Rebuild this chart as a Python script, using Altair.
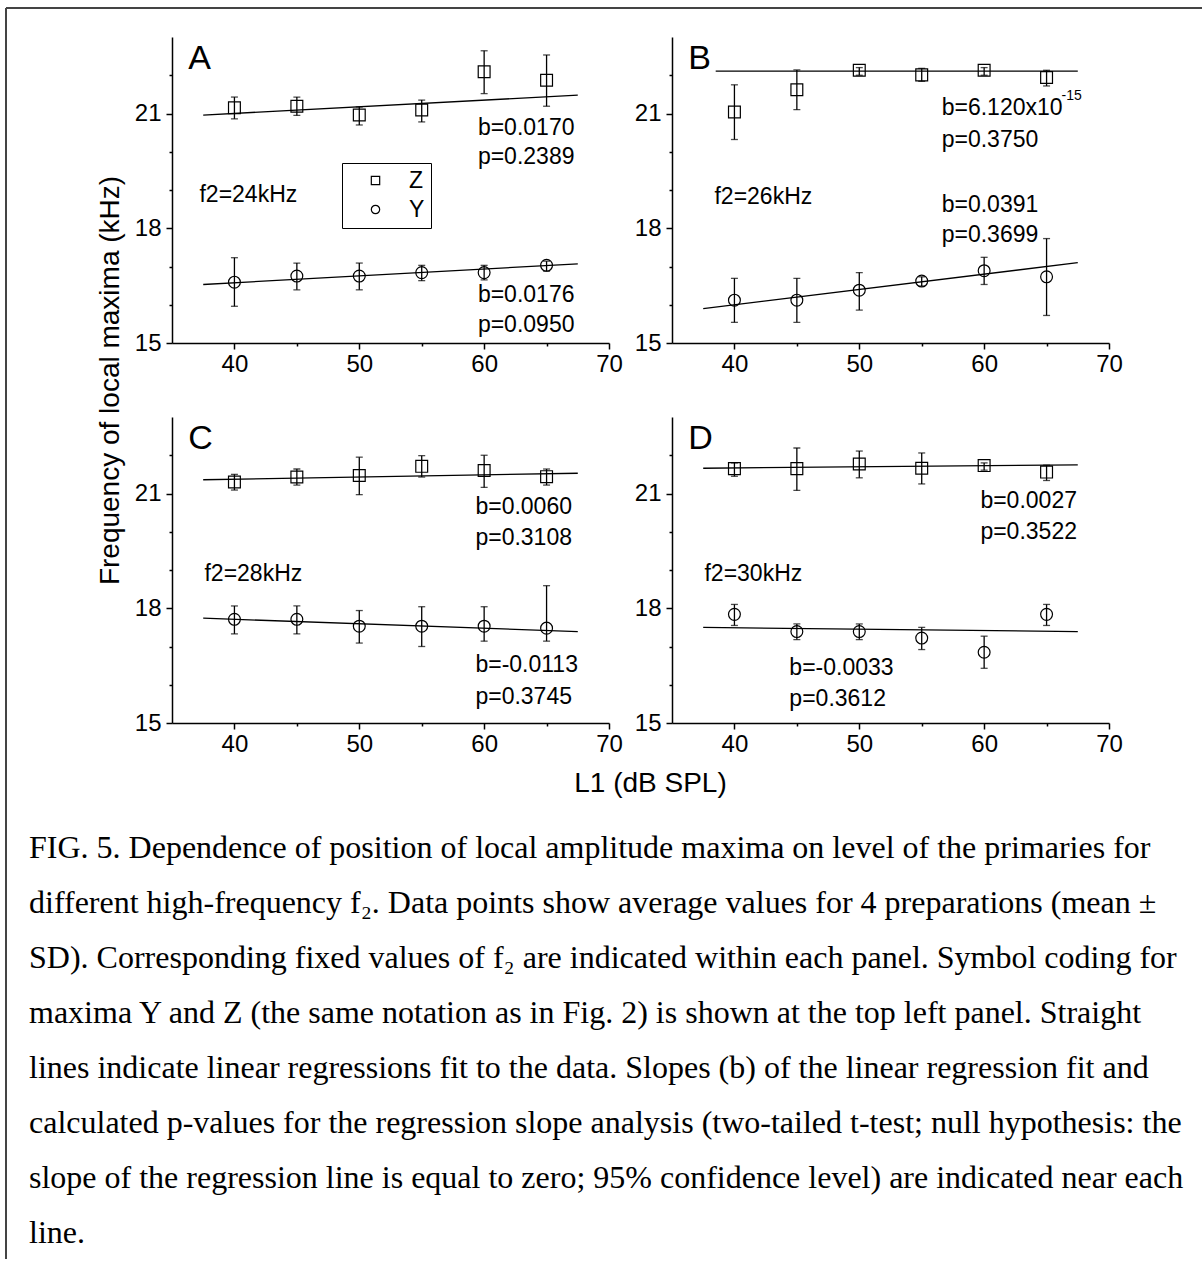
import altair as alt
import pandas as pd

# ---------------- data ----------------
L1 = [40, 45, 50, 55, 60, 65]
PANELS = ["A", "B", "C", "D"]
SERIES = ["Z", "Y"]

# means and error-bar ends (kHz)
A_Z = [21.15, 21.19, 20.96, 21.09, 22.09, 21.87]
A_Z_LO = [20.86, 20.95, 20.70, 20.78, 21.52, 21.19]
A_Z_HI = [21.43, 21.43, 21.17, 21.35, 22.64, 22.53]
A_Y = [16.59, 16.75, 16.75, 16.84, 16.84, 17.03]
A_Y_LO = [15.96, 16.39, 16.39, 16.63, 16.65, 16.88]
A_Y_HI = [17.23, 17.09, 17.09, 17.03, 17.03, 17.14]

B_Z = [21.04, 21.62, 22.13, 22.01, 22.13, 21.94]
B_Z_LO = [20.32, 21.10, 22.00, 21.84, 22.00, 21.72]
B_Z_HI = [21.75, 22.14, 22.20, 22.18, 22.20, 22.13]
B_Y = [16.12, 16.12, 16.38, 16.62, 16.89, 16.73]
B_Y_LO = [15.54, 15.54, 15.86, 16.49, 16.53, 15.72]
B_Y_HI = [16.69, 16.69, 16.84, 16.73, 17.24, 17.73]

C_Z = [21.30, 21.43, 21.47, 21.71, 21.60, 21.44]
C_Z_LO = [21.09, 21.22, 20.97, 21.43, 21.16, 21.22]
C_Z_HI = [21.50, 21.64, 21.95, 21.99, 22.00, 21.64]
C_Y = [17.71, 17.71, 17.53, 17.53, 17.53, 17.48]
C_Y_LO = [17.33, 17.33, 17.09, 17.00, 17.14, 17.14]
C_Y_HI = [18.06, 18.06, 17.94, 18.04, 18.04, 18.59]

D_Z = [21.65, 21.65, 21.77, 21.66, 21.73, 21.56]
D_Z_LO = [21.45, 21.08, 21.41, 21.25, 21.61, 21.34]
D_Z_HI = [21.80, 22.19, 22.11, 22.06, 21.80, 21.74]
D_Y = [17.84, 17.39, 17.39, 17.22, 16.85, 17.84]
D_Y_LO = [17.55, 17.18, 17.18, 16.92, 16.43, 17.55]
D_Y_HI = [18.10, 17.59, 17.59, 17.50, 17.27, 18.10]

# regression lines (start / end) per panel and series (Z, Y)
FIT_PANEL = ["A", "A", "B", "B", "C", "C", "D", "D"]
FIT_SERIES = ["Z", "Y", "Z", "Y", "Z", "Y", "Z", "Y"]
FIT_X0 = [37.5, 37.5, 38.5, 37.5, 37.5, 37.5, 37.5, 37.5]
FIT_X1 = [67.5, 67.5, 67.5, 67.5, 67.5, 67.5, 67.5, 67.5]
FIT_Y0 = [20.96, 16.53, 22.11, 15.90, 21.36, 17.74, 21.66, 17.50]
FIT_Y1 = [21.48, 17.07, 22.11, 17.10, 21.53, 17.39, 21.75, 17.39]

# annotation texts
PANEL_LETTERS = ["A", "B", "C", "D"]
F2_TEXT = ["f2=24kHz", "f2=26kHz", "f2=28kHz", "f2=30kHz"]
Z_SLOPE = ["b=0.0170", "b=6.120x10", "b=0.0060", "b=0.0027"]
Z_PVAL = ["p=0.2389", "p=0.3750", "p=0.3108", "p=0.3522"]
Y_SLOPE = ["b=0.0176", "b=0.0391", "b=-0.0113", "b=-0.0033"]
Y_PVAL = ["p=0.0950", "p=0.3699", "p=0.3745", "p=0.3612"]
B_EXPONENT = "-15"

X_TITLE = "L1 (dB SPL)"
Y_TITLE = "Frequency of local maxima (kHz)"

CAPTION = [
    "FIG. 5. Dependence of position of local amplitude maxima on level of the primaries for",
    "different high-frequency f\u2082. Data points show average values for 4 preparations (mean \u00b1",
    "SD). Corresponding fixed values of f\u2082 are indicated within each panel. Symbol coding for",
    "maxima Y and Z (the same notation as in Fig. 2) is shown at the top left panel. Straight",
    "lines indicate linear regressions fit to the data. Slopes (b) of the linear regression fit and",
    "calculated p-values for the regression slope analysis (two-tailed t-test; null hypothesis: the",
    "slope of the regression line is equal to zero; 95% confidence level) are indicated near each",
    "line.",
]

# ---------------- tables ----------------
MEANS = {"A": (A_Z, A_Y), "B": (B_Z, B_Y), "C": (C_Z, C_Y), "D": (D_Z, D_Y)}
LOS = {"A": (A_Z_LO, A_Y_LO), "B": (B_Z_LO, B_Y_LO), "C": (C_Z_LO, C_Y_LO), "D": (D_Z_LO, D_Y_LO)}
HIS = {"A": (A_Z_HI, A_Y_HI), "B": (B_Z_HI, B_Y_HI), "C": (C_Z_HI, C_Y_HI), "D": (D_Z_HI, D_Y_HI)}

rows = []
for p in PANELS:
    for si, s in enumerate(SERIES):
        for i, x in enumerate(L1):
            rows.append(dict(panel=p, series=s, L1=x, mean=MEANS[p][si][i],
                             lo=LOS[p][si][i], hi=HIS[p][si][i]))
pts = pd.DataFrame(rows)

fit_rows = []
for i in range(len(FIT_PANEL)):
    fit_rows.append(dict(panel=FIT_PANEL[i], series=FIT_SERIES[i], x=FIT_X0[i], y=FIT_Y0[i]))
    fit_rows.append(dict(panel=FIT_PANEL[i], series=FIT_SERIES[i], x=FIT_X1[i], y=FIT_Y1[i]))
fits = pd.DataFrame(fit_rows)

# text placement (data units of each panel) - layout only
LETTER_POS = [(36.3, 22.43)] * 4
F2_POS = [(37.2, 18.87), (38.4, 18.82), (37.6, 18.90), (37.6, 18.90)]
ZB_POS = [(59.5, 20.63), (56.6, 21.15), (59.3, 20.65), (59.7, 20.81)]
ZP_POS = [(59.5, 19.87), (56.6, 20.31), (59.3, 19.84), (59.7, 20.00)]
YB_POS = [(59.5, 16.26), (56.6, 18.61), (59.3, 16.52), (44.4, 16.44)]
YP_POS = [(59.5, 15.47), (56.6, 17.83), (59.3, 15.68), (44.4, 15.63)]
EXP_POS = (66.2, 21.45)

text_rows = []
for k, p in enumerate(PANELS):
    text_rows.append(dict(panel=p, text=PANEL_LETTERS[k], x=LETTER_POS[k][0], y=LETTER_POS[k][1], fs=34))
    text_rows.append(dict(panel=p, text=F2_TEXT[k], x=F2_POS[k][0], y=F2_POS[k][1], fs=23))
    text_rows.append(dict(panel=p, text=Z_SLOPE[k], x=ZB_POS[k][0], y=ZB_POS[k][1], fs=23))
    text_rows.append(dict(panel=p, text=Z_PVAL[k], x=ZP_POS[k][0], y=ZP_POS[k][1], fs=23))
    text_rows.append(dict(panel=p, text=Y_SLOPE[k], x=YB_POS[k][0], y=YB_POS[k][1], fs=23))
    text_rows.append(dict(panel=p, text=Y_PVAL[k], x=YP_POS[k][0], y=YP_POS[k][1], fs=23))
text_rows.append(dict(panel="B", text=B_EXPONENT, x=EXP_POS[0], y=EXP_POS[1], fs=14))
texts = pd.DataFrame(text_rows)

# ---------------- styling ----------------
FONT = "Liberation Sans"
SERIF = "Liberation Serif"
W, H = 437, 306
XS = alt.Scale(domain=[35, 70], nice=False, zero=False)
YS = alt.Scale(domain=[15, 23], nice=False, zero=False)
SHAPES = alt.Scale(domain=SERIES, range=["square", "circle"])


def x_major(title_on):
    kw = dict(values=[40, 50, 60, 70], orient="bottom", tickSize=6, tickWidth=1.5,
              tickColor="black", domainColor="black", domainWidth=1.5,
              labelFont=FONT, labelFontSize=24, labelColor="black", labelPadding=3,
              labelFlush=False, labelOverlap=False, grid=False)
    if title_on:
        kw.update(title=X_TITLE, titleFont=FONT, titleFontSize=28, titleFontWeight="normal",
                  titleColor="black", titleX=478, titleY=60, titleAlign="center",
                  titleBaseline="middle", titleAngle=0)
    else:
        kw["title"] = None
    return alt.Axis(**kw)


def y_major(title_on):
    kw = dict(values=[15, 18, 21], orient="left", tickSize=6, tickWidth=1.5,
              tickColor="black", domainColor="black", domainWidth=1.5,
              labelFont=FONT, labelFontSize=24, labelColor="black", labelPadding=5,
              labelFlush=False, labelOverlap=False, grid=False)
    if title_on:
        kw.update(title=Y_TITLE, titleFont=FONT, titleFontSize=28, titleFontWeight="normal",
                  titleColor="black", titleX=-62, titleY=343, titleAlign="center",
                  titleBaseline="middle", titleAngle=270)
    else:
        kw["title"] = None
    return alt.Axis(**kw)


X_MINOR = alt.Axis(values=[45, 55, 65], orient="bottom", tickSize=3, tickWidth=1.5,
                   tickColor="black", labels=False, domain=False, grid=False, title=None)
Y_MINOR = alt.Axis(values=[16, 17, 19, 20, 22], orient="left", tickSize=3, tickWidth=1.5,
                   tickColor="black", labels=False, domain=False, grid=False, title=None)


def panel(p):
    d_pts = pts[pts.panel == p]
    d_fit = fits[fits.panel == p]
    d_txt = texts[texts.panel == p]

    fit = alt.Chart(d_fit).mark_line(color="black", strokeWidth=1.3).encode(
        x=alt.X("x:Q", scale=XS, axis=x_major(p == "C")),
        y=alt.Y("y:Q", scale=YS, axis=y_major(p == "A")),
        detail="series:N",
    )
    bars = alt.Chart(d_pts).mark_rule(color="black", strokeWidth=1.3).encode(
        x=alt.X("L1:Q", scale=XS, axis=X_MINOR),
        y=alt.Y("lo:Q", scale=YS, axis=Y_MINOR),
        y2="hi:Q",
    )
    cap_lo = alt.Chart(d_pts).mark_tick(color="black", thickness=1.3, size=7,
                                        orient="horizontal").encode(
        x=alt.X("L1:Q", scale=XS, axis=None),
        y=alt.Y("lo:Q", scale=YS, axis=None),
    )
    cap_hi = alt.Chart(d_pts).mark_tick(color="black", thickness=1.3, size=7,
                                        orient="horizontal").encode(
        x=alt.X("L1:Q", scale=XS, axis=None),
        y=alt.Y("hi:Q", scale=YS, axis=None),
    )
    if p == "A":
        legend = alt.Legend(title=None, orient="none", legendX=170, legendY=126,
                            strokeColor="black", padding=6, symbolSize=70,
                            symbolStrokeWidth=1.2, symbolStrokeColor="black",
                            symbolOffset=16, labelOffset=22, rowPadding=5,
                            labelFont=FONT, labelFontSize=23, labelColor="black")
    else:
        legend = None
    points = alt.Chart(d_pts).mark_point(filled=False, color="black", strokeWidth=1.2,
                                         size=140, opacity=1).encode(
        x=alt.X("L1:Q", scale=XS, axis=None),
        y=alt.Y("mean:Q", scale=YS, axis=None),
        shape=alt.Shape("series:N", scale=SHAPES, legend=legend),
    )
    txt = alt.Chart(d_txt).mark_text(font=FONT, align="left", baseline="middle",
                                     color="black").encode(
        x=alt.X("x:Q", scale=XS, axis=None),
        y=alt.Y("y:Q", scale=YS, axis=None),
        text="text:N",
        size=alt.Size("fs:Q", scale=None, legend=None),
    )
    return alt.layer(fit, bars, cap_lo, cap_hi, points, txt).resolve_axis(
        x="independent", y="independent"
    ).properties(width=W, height=H)


# caption block (below the panels) with the figure frame lines
cap_df = pd.DataFrame({"line": list(range(len(CAPTION))), "text": CAPTION})
caption_text = alt.Chart(cap_df).mark_text(font=SERIF, fontSize=32, align="left",
                                           baseline="middle", color="black").encode(
    x=alt.value(-143),
    y=alt.Y("line:Q", scale=alt.Scale(domain=[0, 7], range=[51, 436]), axis=None),
    text="text:N",
)
frame_df = pd.DataFrame({"k": [0]})
frame_top = alt.Chart(frame_df).mark_rule(color="#444444", strokeWidth=2).encode(
    x=alt.value(-166), x2=alt.value(1030), y=alt.value(-789)
)
frame_left = alt.Chart(frame_df).mark_rule(color="#444444", strokeWidth=2).encode(
    x=alt.value(-166), y=alt.value(-789), y2=alt.value(462)
)
caption = alt.layer(caption_text, frame_top, frame_left).properties(width=W, height=440)

chart = alt.concat(
    panel("A"), panel("B"), panel("C"), panel("D"), caption,
    columns=2, spacing={"row": 74, "column": 63}, bounds="flush",
).properties(
    padding={"left": 5, "top": 7, "right": 0, "bottom": 0},
    background="white",
).configure_view(stroke=None)

chart.save("out.html", embed_options={"renderer": "svg", "actions": False})
